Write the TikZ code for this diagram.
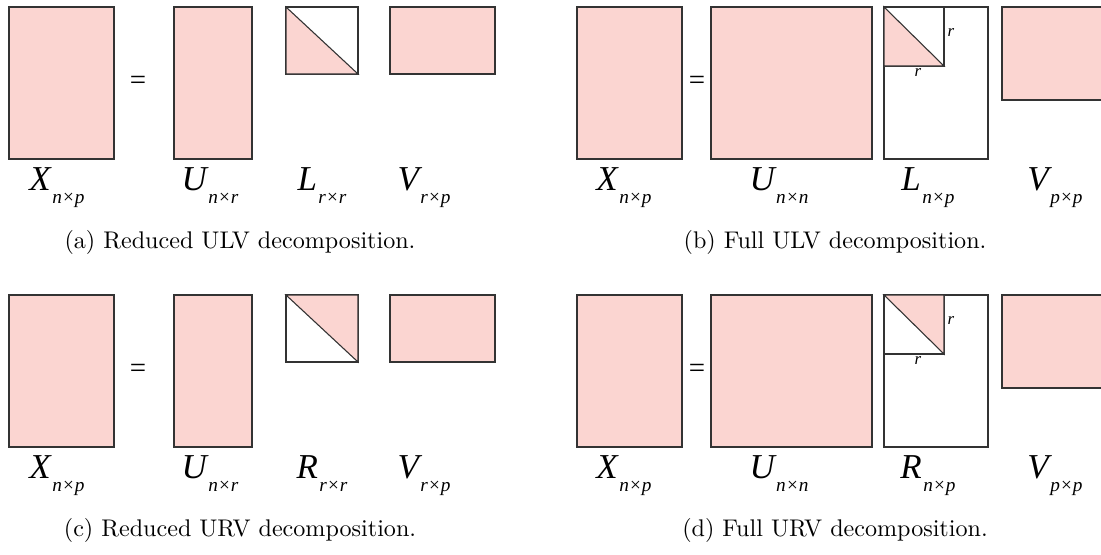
\documentclass[tikz,border=0pt]{standalone}
\usepackage{fontspec}
\newfontfamily\labfont{LiberationSerif-Regular.ttf}[ItalicFont=LiberationSerif-Italic.ttf]
\usetikzlibrary{positioning}
\definecolor{matpink}{RGB}{251,213,209}
\newcommand{\matsub}[1]{\kern0.6pt\raisebox{-5.4pt}{\fontsize{8}{8}\selectfont #1}}

\begin{document}
\begin{tikzpicture}[x=0.415pt,y=-0.415pt,
  mat/.style={draw=black!80,line width=0.45pt,fill=matpink},
  blank/.style={draw=black!80,line width=0.45pt,fill=white},
  lab/.style={anchor=base,inner sep=0pt,font=\labfont\itshape\fontsize{14.5}{15}\selectfont},
  eqsign/.style={inner sep=0pt,font=\labfont\fontsize{12}{12}\selectfont},
  dimlab/.style={inner sep=0pt,font=\labfont\itshape\fontsize{7}{7}\selectfont},
  caption/.style={anchor=base,inner sep=0pt,font=\fontsize{10}{12}\selectfont}]
  \useasboundingbox (0,0) rectangle (1101,554);
  \clip (0,0) rectangle (1101,554);

  % (a) reduced ULV
  \draw[mat] (9,7) rectangle (114,159);
  \node[eqsign] (eqa) at (138,83) {=};
  \draw[mat] (174,7) rectangle (252,159);
  \draw[blank] (286,7) rectangle (358,74);
  \draw[mat] (286,7) -- (358,74) -- (286,74) -- cycle;
  \draw[mat] (390,7) rectangle (495,74);
  \node[lab] (xa) at (57,190) {X\matsub{n×p}};
  \node[lab] (ua) at (210,190) {U\matsub{n×r}};
  \node[lab] (la) at (322,190) {L\matsub{r×r}};
  \node[lab] (va) at (424,190) {V\matsub{r×p}};
  \node[caption] (capa) at (240,248) {(a) Reduced ULV decomposition.};

  % (b) full ULV
  \draw[mat] (577,7) rectangle (682,159);
  \node[eqsign] (eqb) at (697,83) {=};
  \draw[mat] (711,7) rectangle (872,159);
  \draw[blank] (884,7) rectangle (988,159);
  \draw[blank] (884,7) rectangle (944,66);
  \draw[mat] (884,7) -- (944,66) -- (884,66) -- cycle;
  \node[dimlab] (rbv) at (951,33) {r};
  \node[dimlab] (rbh) at (918,73) {r};
  \draw[mat] (1002,7) rectangle (1120,100);
  \node[lab] (xb) at (624,190) {X\matsub{n×p}};
  \node[lab] (ub) at (779,190) {U\matsub{n×n}};
  \node[lab] (lb) at (928,190) {L\matsub{n×p}};
  \node[lab] (vb) at (1055,190) {V\matsub{p×p}};
  \node[caption] (capb) at (835,248) {(b) Full ULV decomposition.};

  \begin{scope}[shift={(0,288)}]
    % (c) reduced URV
    \draw[mat] (9,7) rectangle (114,159);
    \node[eqsign] (eqc) at (138,83) {=};
    \draw[mat] (174,7) rectangle (252,159);
    \draw[blank] (286,7) rectangle (358,74);
    \draw[mat] (286,7) -- (358,7) -- (358,74) -- cycle;
    \draw[mat] (390,7) rectangle (495,74);
    \node[lab] (xc) at (57,190) {X\matsub{n×p}};
    \node[lab] (uc) at (210,190) {U\matsub{n×r}};
    \node[lab] (rc) at (322,190) {R\matsub{r×r}};
    \node[lab] (vc) at (424,190) {V\matsub{r×p}};
    \node[caption] (capc) at (240,248) {(c) Reduced URV decomposition.};

    % (d) full URV
    \draw[mat] (577,7) rectangle (682,159);
    \node[eqsign] (eqd) at (697,83) {=};
    \draw[mat] (711,7) rectangle (872,159);
    \draw[blank] (884,7) rectangle (988,159);
    \draw[blank] (884,7) rectangle (944,66);
    \draw[mat] (884,7) -- (944,7) -- (944,66) -- cycle;
    \node[dimlab] (rdv) at (951,33) {r};
    \node[dimlab] (rdh) at (918,73) {r};
    \draw[mat] (1002,7) rectangle (1120,100);
    \node[lab] (xd) at (624,190) {X\matsub{n×p}};
    \node[lab] (ud) at (779,190) {U\matsub{n×n}};
    \node[lab] (rd) at (928,190) {R\matsub{n×p}};
    \node[lab] (vd) at (1055,190) {V\matsub{p×p}};
    \node[caption] (capd) at (835,248) {(d) Full URV decomposition.};
  \end{scope}
\end{tikzpicture}
\end{document}
